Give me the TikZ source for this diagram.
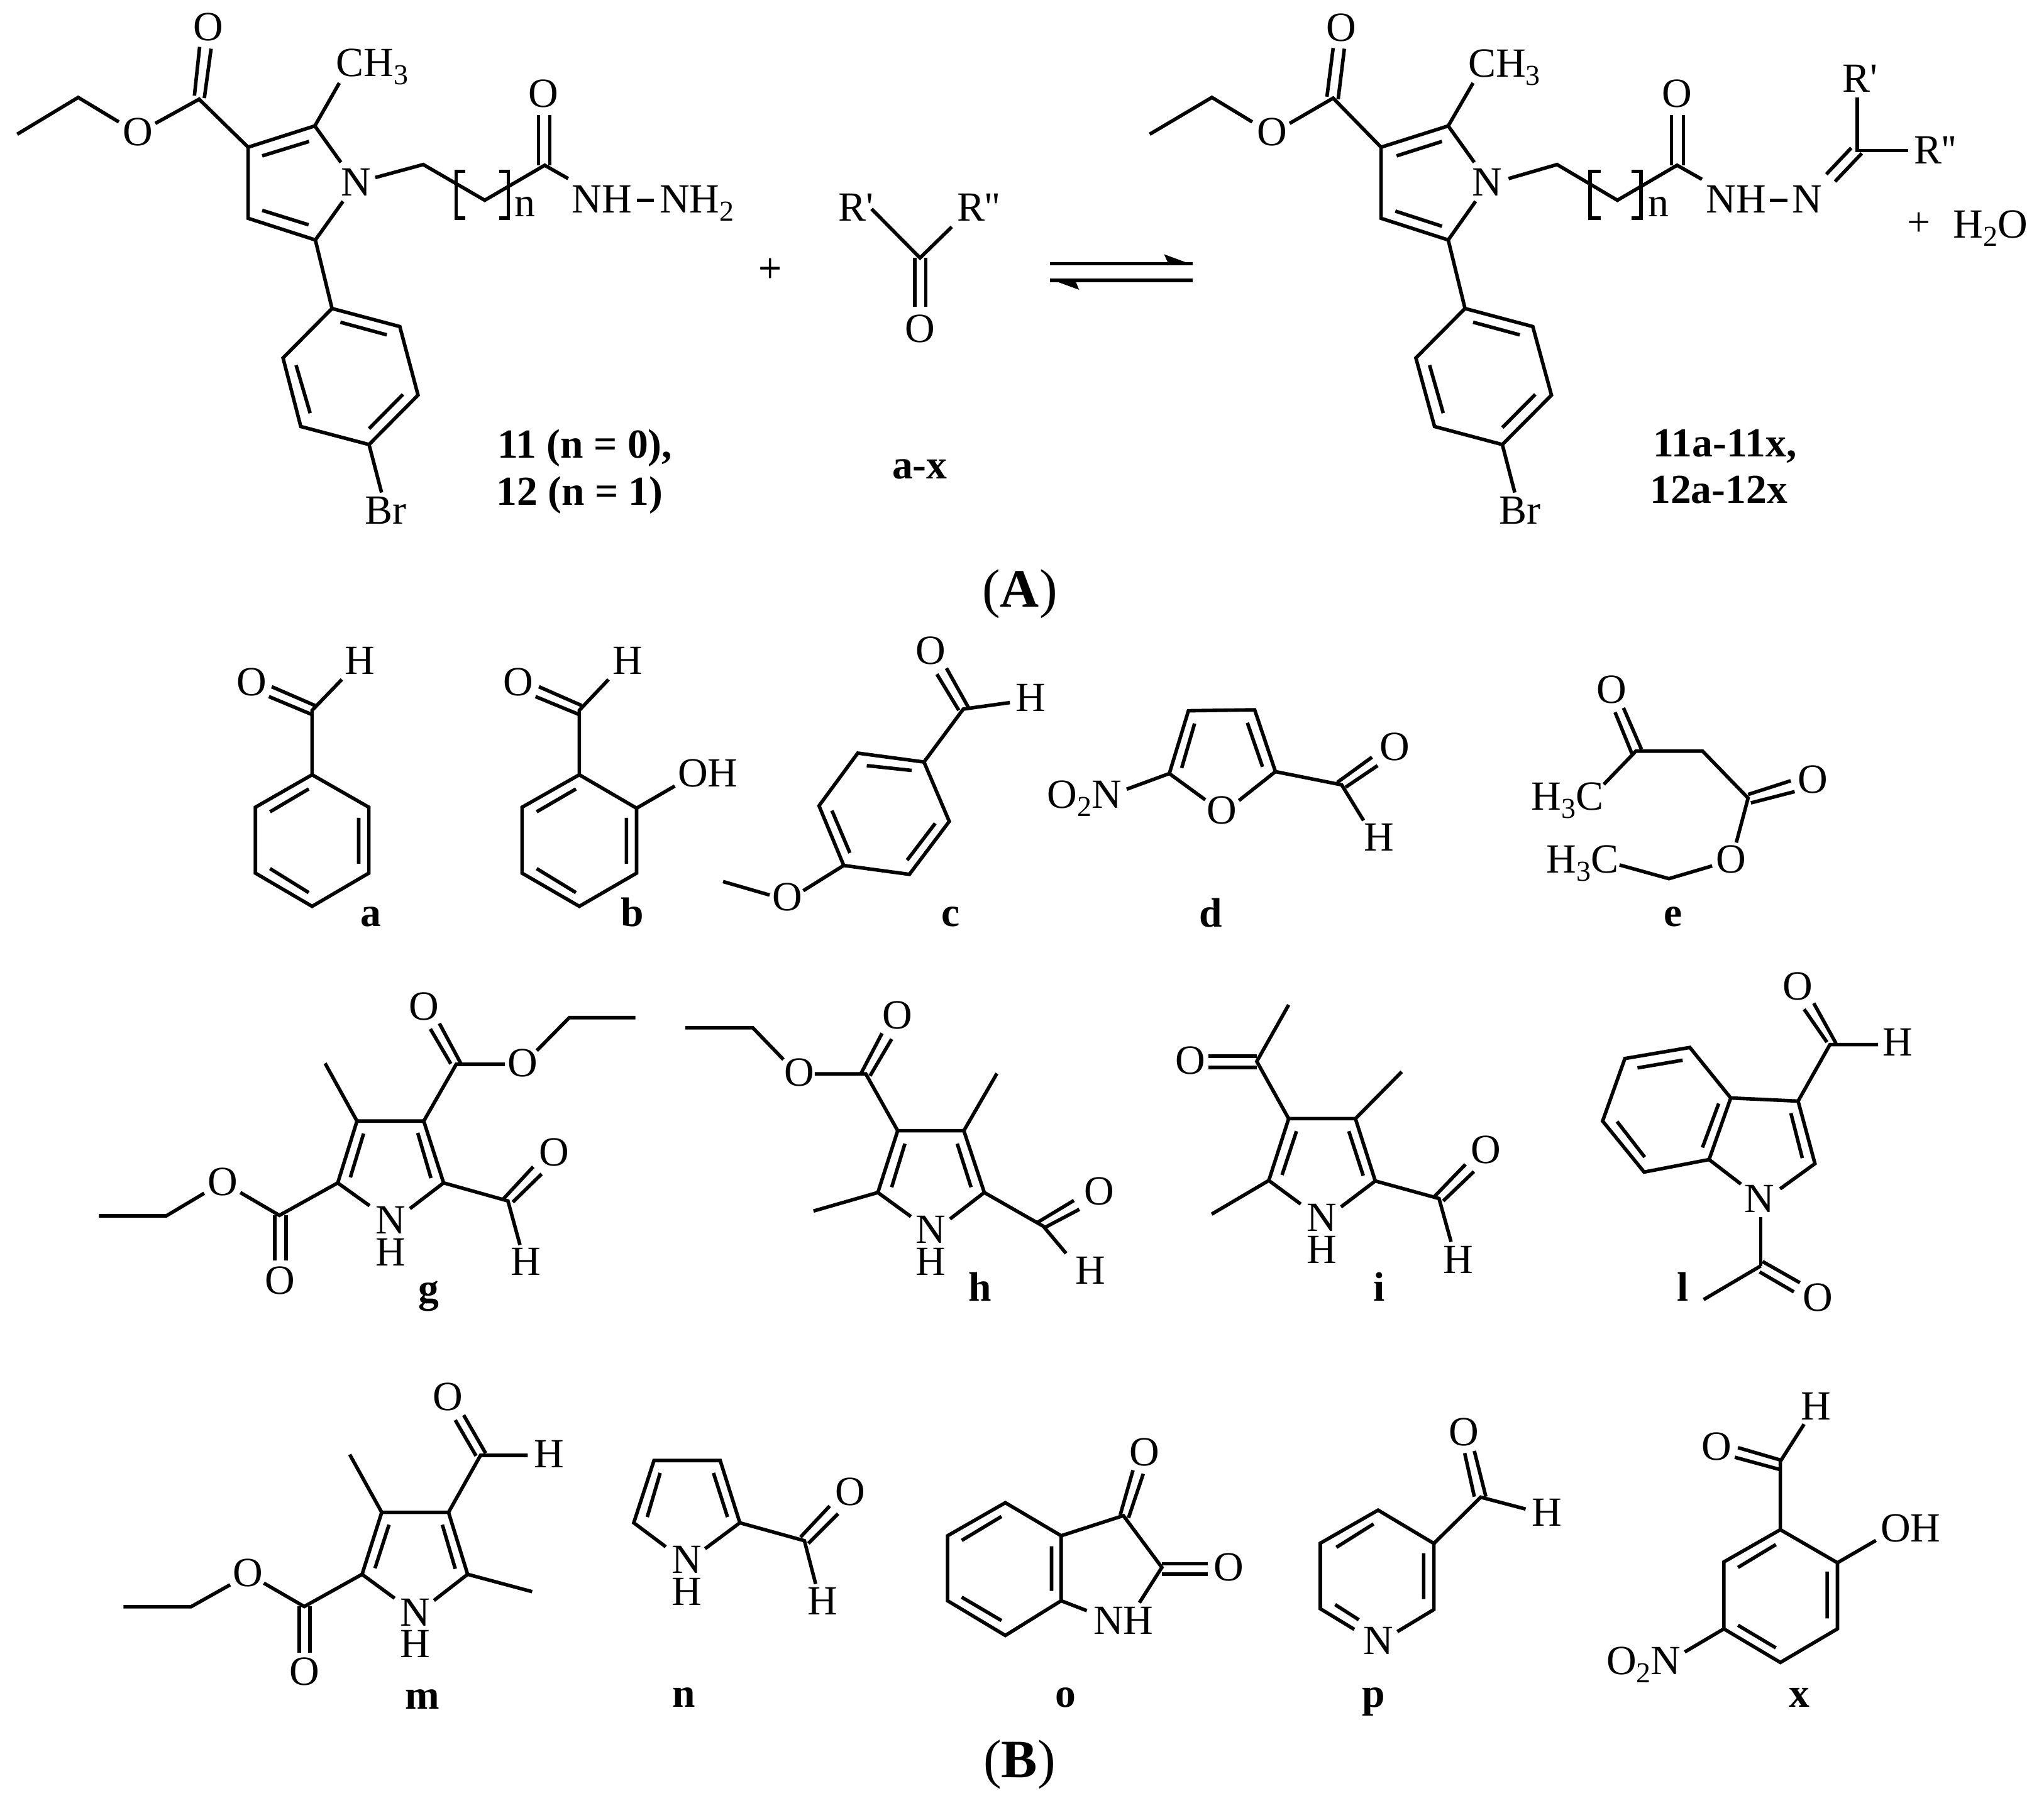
\documentclass[tikz,border=0pt]{standalone}
\usepackage{fontspec}
\newfontfamily\chemfont{Liberation Serif}
\newcommand{\sbs}[1]{\raisebox{-3.2pt}{\fontsize{11.5}{11.5}\selectfont #1}}
\newcommand{\nhstack}{\rlap{\raisebox{12.7pt}{N}}H}
\newcounter{labno}
\newcommand{\lab}[2]{\stepcounter{labno}\node[atom] (lab\arabic{labno}) at (#1) {#2};}
\newcommand{\blab}[2]{\stepcounter{labno}\node[atom,font=\chemfont\bfseries\fontsize{16.4}{20}\selectfont] (lab\arabic{labno}) at (#1) {#2};}
\tikzset{
  bond/.style={line width=1.4pt,line join=miter,black},
  atom/.style={inner sep=0pt,outer sep=0pt,anchor=base,text=black,font=\chemfont\fontsize{16.5}{20}\selectfont},
  big/.style={inner sep=0pt,outer sep=0pt,anchor=base,text=black,font=\chemfont\fontsize{21.5}{26}\selectfont},
  crop/.style n args={4}{shift={(#1*0.25pt,-#2*0.25pt)},x={#3/1568*0.25pt},y={-#4/1568*0.25pt}}
}
\begin{document}
\begin{tikzpicture}
\useasboundingbox[fill=white] (0,0) rectangle (812.75pt,-716.75pt);
% ---------- reactant 11/12
\begin{scope}[crop={0}{0}{1300}{900}]
\draw[bond] (33,372)--(150,270)--(228,338);
\draw[bond] (298,342)--(382,275)--(476,408)--(604,349)--(654,450);
\draw[bond] (373,265)--(383,130) (392,272)--(405,135);
\draw[bond] (503,432)--(593,392);
\draw[bond] (604,349)--(651,230);
\draw[bond] (658,558)--(605,665)--(476,605)--(476,408);
\draw[bond] (503,583)--(592,623);
\draw[bond] (720,492)--(812,456)--(930,555)--(1045,458)--(1090,495);
\draw[bond] (1033,458)--(1033,318) (1055,458)--(1055,318);
\draw[bond] (893,475)--(875,475)--(875,605)--(893,605);
\draw[bond] (958,475)--(975,475)--(975,605)--(958,605);
\draw[bond] (1222,555)--(1255,555);
\draw[bond] (605,665)--(637,855);
\draw[bond] (637,855)--(767,905)--(802,1095)--(708,1232)--(577,1182)--(543,992)--cycle;
\draw[bond] (653,893)--(742,928) (773,1093)--(708,1188) (595,1145)--(568,1012);
\draw[bond] (708,1232)--(732,1365);
\lab{265,403}{O}\lab{400,113}{O}\lab{714,212}{CH\sbs{3}}\lab{683,543}{N}
\lab{1043,297}{O}\lab{1007,600}{n}\lab{1155,590}{NH}\lab{1337,590}{NH\sbs{2}}
\lab{1478,783}{+}\lab{740,1453}{Br}
\blab{1122,1270}{11 (n = 0),}\blab{1112,1400}{12 (n = 1)}
\end{scope}
% ---------- carbonyl a-x
\begin{scope}[crop={1150}{250}{800}{750}]
\draw[bond] (463,172)--(614,335)--(713,232);
\draw[bond] (598,335)--(598,497) (632,335)--(632,497);
\lab{415,212}{R'}\lab{797,212}{R''}\lab{615,615}{O}\lab{148,414}{+}
\blab{613,1070}{a-x}
\node[big] (capA) at (925,1497) {(\textbf{A})};
\draw[bond] (1020,354)--(1464,354) (1020,410)--(1464,410);
\fill (1464,358)--(1375,323)--(1388,354)--(1464,354)--cycle;
\fill (1020,406)--(1110,441)--(1098,410)--(1020,410)--cycle;
\end{scope}
% ---------- product
\begin{scope}[crop={1700}{0}{1551}{900}]
\draw[bond] (130,372)--(230,270)--(295,338);
\draw[bond] (355,342)--(425,272)--(502,408)--(610,349)--(652,450);
\draw[bond] (415,268)--(425,133) (433,275)--(443,135);
\draw[bond] (527,432)--(600,392);
\draw[bond] (610,349)--(650,230);
\draw[bond] (654,558)--(610,665)--(502,605)--(502,408);
\draw[bond] (525,585)--(600,627);
\draw[bond] (707,495)--(785,456)--(882,555)--(978,458)--(1018,497);
\draw[bond] (969,458)--(969,318) (988,458)--(988,318);
\draw[bond] (855,475)--(838,475)--(838,605)--(855,605);
\draw[bond] (905,475)--(920,475)--(920,605)--(905,605);
\draw[bond] (1127,555)--(1155,555);
\draw[bond] (1218,483)--(1258,410) (1232,503)--(1275,425);
\draw[bond] (1350,417)--(1268,417)--(1268,270);
\draw[bond] (610,665)--(637,855);
\draw[bond] (637,855)--(746,905)--(776,1095)--(697,1232)--(588,1182)--(558,992)--cycle;
\draw[bond] (650,893)--(725,928) (750,1093)--(697,1185) (602,1145)--(580,1012);
\draw[bond] (697,1232)--(717,1365);
\lab{327,403}{O}\lab{438,115}{O}\lab{700,213}{CH\sbs{3}}\lab{673,543}{N}
\lab{978,297}{O}\lab{948,600}{n}\lab{1073,590}{NH}\lab{1187,590}{N}
\lab{1393,453}{R''}\lab{1272,255}{R'}\lab{1367,655}{+}\lab{1482,660}{H\sbs{2}O}
\lab{725,1453}{Br}
\blab{1055,1265}{11a-11x,}\blab{1045,1395}{12a-12x}
\end{scope}
% ---------- a, b, c
\begin{scope}[crop={300}{950}{1400}{600}]
\draw[bond] (220,738)--(321,873)--(321,1147)--(220,1285)--(119,1147)--(119,873)--cycle;
\draw[bond] (214,797)--(145,892) (303,917)--(303,1108) (145,1128)--(214,1228);
\draw[bond] (220,738)--(220,470)--(273,342);
\draw[bond] (219,487)--(143,413) (225,450)--(148,372);
\lab{112,410}{O}\lab{305,320}{H}\blab{325,1368}{a}
\draw[bond] (696,738)--(798,877)--(798,1147)--(696,1285)--(594,1147)--(594,873)--cycle;
\draw[bond] (690,797)--(620,892) (780,917)--(780,1108) (620,1128)--(690,1228);
\draw[bond] (696,738)--(696,470)--(748,342);
\draw[bond] (695,487)--(618,413) (700,450)--(624,372);
\draw[bond] (798,877)--(866,785);
\lab{587,410}{O}\lab{782,320}{H}\lab{925,787}{OH}\blab{790,1368}{b}
\draw[bond] (1192,648)--(1310,685)--(1355,932)--(1284,1152)--(1167,1115)--(1123,867)--cycle;
\draw[bond] (1208,700)--(1288,720) (1330,940)--(1280,1093) (1178,1063)--(1146,887);
\draw[bond] (1310,685)--(1380,465)--(1463,438);
\draw[bond] (1372,470)--(1333,320) (1390,462)--(1350,295);
\draw[bond] (1167,1115)--(1095,1220) (1035,1238)--(952,1182);
\lab{1322,279}{O}\lab{1500,475}{H}\lab{1067,1304}{O}\blab{1358,1368}{c}
\end{scope}
% ---------- d, e
\begin{scope}[crop={1600}{950}{1400}{600}]
\draw[bond] (355,842)--(291,733)--(325,472)--(443,468)--(480,725)--(415,845);
\draw[bond] (336,525)--(313,710) (430,522)--(457,705);
\draw[bond] (291,733)--(215,798);
\draw[bond] (480,725)--(598,780)--(637,928);
\draw[bond] (590,770)--(652,665) (605,790)--(662,700);
\lab{385,943}{O}\lab{140,878}{O\sbs{2}N}\lab{692,677}{O}\lab{664,1055}{H}\blab{365,1370}{d}
\draw[bond] (1115,650)--(1085,478) (1132,632)--(1100,460);
\draw[bond] (1065,778)--(1122,640)--(1241,640)--(1322,835)--(1301,1020);
\draw[bond] (1322,820)--(1398,763) (1327,855)--(1405,808);
\draw[bond] (1258,1117)--(1181,1170)--(1093,1113);
\lab{1079,440}{O}\lab{1000,884}{H\sbs{3}C}\lab{1437,813}{O}\lab{1292,1147}{O}\lab{1027,1147}{H\sbs{3}C}\blab{1188,1368}{e}
\end{scope}
% ---------- g, h
\begin{scope}[crop={100}{1520}{1500}{600}]
\draw[bond] (577,1052)--(633,945)--(600,688)--(489,688)--(457,945)--(510,1040);
\draw[bond] (500,740)--(478,922) (590,737)--(612,925);
\draw[bond] (489,688)--(436,448);
\draw[bond] (600,688)--(654,452)--(735,452);
\draw[bond] (645,450)--(611,305) (662,450)--(626,282);
\draw[bond] (788,395)--(842,258)--(952,258);
\draw[bond] (457,945)--(360,1080)--(295,985);
\draw[bond] (352,1080)--(352,1268) (371,1080)--(371,1268);
\draw[bond] (235,988)--(172,1082)--(60,1082);
\draw[bond] (633,945)--(740,1020)--(760,1203);
\draw[bond] (733,1010)--(782,878) (748,1025)--(796,908);
\lab{545,1290}{\nhstack}\lab{600,267}{O}\lab{764,502}{O}\lab{361,1407}{O}\lab{266,996}{O}\lab{817,875}{O}\lab{770,1330}{H}\blab{608,1442}{g}
\draw[bond] (1035,300)--(1147,300)--(1198,432);
\draw[bond] (1250,492)--(1335,492)--(1388,728);
\draw[bond] (1327,490)--(1362,323) (1342,500)--(1378,347);
\draw[bond] (1475,1095)--(1532,985)--(1498,728)--(1388,728)--(1355,985)--(1410,1085);
\draw[bond] (1400,782)--(1378,963) (1487,782)--(1510,963);
\draw[bond] (1355,985)--(1248,1062);
\draw[bond] (1498,728)--(1553,490);
\draw[bond] (1532,985)--(1630,1125)--(1668,1238);
\draw[bond] (1620,1110)--(1681,1018) (1633,1130)--(1690,1055);
\lab{1224,543}{O}\lab{1388,305}{O}\lab{1443,1328}{\nhstack}\lab{1723,1037}{O}\lab{1708,1365}{H}\blab{1525,1435}{h}
\end{scope}
% ---------- i, l
\begin{scope}[crop={1600}{1520}{1500}{600}]
\draw[bond] (557,1045)--(614,937)--(581,678)--(470,678)--(437,935)--(490,1033);
\draw[bond] (483,730)--(459,912) (570,730)--(594,915);
\draw[bond] (581,678)--(658,483);
\draw[bond] (470,678)--(417,440)--(470,205);
\draw[bond] (417,418)--(337,418) (417,465)--(337,465);
\draw[bond] (437,935)--(342,1075);
\draw[bond] (614,937)--(720,1010)--(740,1190);
\draw[bond] (713,1000)--(764,868) (727,1020)--(778,898);
\lab{525,1280}{\nhstack}\lab{307,492}{O}\lab{798,865}{O}\lab{752,1320}{H}\blab{620,1435}{i}
\draw[bond] (1137,382)--(1205,592)--(1169,848)--(1061,900)--(992,688)--(1029,428)--cycle;
\draw[bond] (1050,467)--(1125,435) (1185,615)--(1158,798) (1016,690)--(1062,838);
\draw[bond] (1205,592)--(1317,605)--(1345,865)--(1287,970);
\draw[bond] (1222,950)--(1169,848);
\draw[bond] (1305,655)--(1324,842);
\draw[bond] (1255,1087)--(1255,1290);
\draw[bond] (1253,1315)--(1310,1398) (1258,1272)--(1320,1360);
\draw[bond] (1255,1290)--(1160,1430);
\draw[bond] (1317,605)--(1370,370)--(1450,370);
\draw[bond] (1365,360)--(1327,223) (1380,365)--(1343,198);
\lab{1253,1068}{N}\lab{1350,1478}{O}\lab{1316,183}{O}\lab{1483,418}{H}\blab{1125,1435}{l}
\end{scope}
% ---------- m, n
\begin{scope}[crop={150}{2180}{1400}{687}]
\draw[bond] (605,835)--(665,740)--(631,515)--(512,515)--(477,740)--(535,827);
\draw[bond] (525,560)--(500,718) (620,560)--(643,720);
\draw[bond] (512,515)--(455,305);
\draw[bond] (631,515)--(688,308)--(772,308);
\draw[bond] (680,310)--(643,180) (697,300)--(658,162);
\draw[bond] (665,740)--(780,803);
\draw[bond] (477,740)--(374,857)--(302,772);
\draw[bond] (365,857)--(365,1025) (384,857)--(384,1025);
\draw[bond] (242,778)--(172,858)--(52,858);
\lab{572,1043}{\nhstack}\lab{630,146}{O}\lab{810,353}{H}\lab{374,1143}{O}\lab{274,785}{O}\blab{585,1228}{m}
\draw[bond] (1088,647)--(1150,553)--(1115,327)--(997,327)--(961,553)--(1018,640);
\draw[bond] (1008,372)--(985,532) (1103,372)--(1128,532);
\draw[bond] (1150,553)--(1265,618)--(1285,775);
\draw[bond] (1258,605)--(1310,492) (1272,628)--(1325,520);
\lab{1055,853}{\nhstack}\lab{1347,490}{O}\lab{1297,887}{H}\blab{1050,1222}{n}
\end{scope}
% ---------- o, p, x, (B)
\begin{scope}[crop={1450}{2180}{1600}{687}]
\draw[bond] (146,480)--(233,600)--(233,836)--(146,962)--(56,836)--(56,600)--cycle;
\draw[bond] (140,530)--(78,617) (218,638)--(218,800) (78,823)--(140,908);
\draw[bond] (233,600)--(330,527)--(390,715)--(355,843);
\draw[bond] (273,872)--(233,836);
\draw[bond] (325,525)--(345,362) (338,535)--(361,375);
\draw[bond] (390,702)--(462,702) (390,740)--(462,740);
\lab{363,345}{O}\lab{494,763}{O}\lab{330,958}{NH}\blab{240,1222}{o}
\draw[bond] (757,948)--(814,868)--(814,628)--(727,507)--(637,627)--(637,865)--(690,940);
\draw[bond] (720,557)--(662,642) (798,663)--(798,830) (660,850)--(697,905);
\draw[bond] (814,628)--(887,460)--(957,503);
\draw[bond] (877,458)--(862,300) (895,458)--(877,292);
\lab{727,1030}{N}\lab{861,272}{O}\lab{990,565}{H}\blab{720,1222}{p}
\draw[bond] (1354,578)--(1443,698)--(1443,938)--(1354,1060)--(1266,938)--(1266,695)--cycle;
\draw[bond] (1347,632)--(1288,715) (1427,730)--(1427,900) (1288,925)--(1347,1007);
\draw[bond] (1354,578)--(1354,330)--(1391,195);
\draw[bond] (1354,325)--(1288,280) (1354,360)--(1283,315);
\draw[bond] (1443,698)--(1503,617);
\draw[bond] (1266,938)--(1205,1022);
\lab{1410,178}{H}\lab{1255,325}{O}\lab{1557,623}{OH}\lab{1141,1103}{O\sbs{2}N}\blab{1384,1222}{x}
\node[big] (capB) at (168,1478) {(\textbf{B})};
\end{scope}
\end{tikzpicture}
\end{document}
